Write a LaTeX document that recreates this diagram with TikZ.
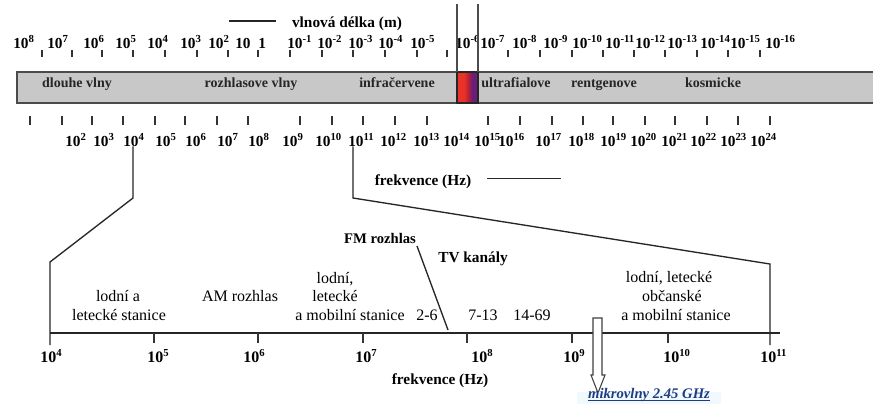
\documentclass[tikz,border=0pt]{standalone}
\usepackage{fontspec}
\setmainfont{Liberation Serif}
\newcommand\tp[1]{10\textsuperscript{#1}}
\definecolor{bandgray}{RGB}{200,200,200}
\definecolor{bandedge}{RGB}{75,75,75}
\definecolor{visred}{RGB}{235,50,40}
\definecolor{visdark}{RGB}{175,30,60}
\definecolor{vispurple}{RGB}{105,30,120}
\definecolor{linkblue}{RGB}{30,60,130}
\begin{document}
\begin{tikzpicture}[x=0.75pt,y=-0.75pt,
  num/.style={font=\bfseries\fontsize{11.5}{12}\selectfont,inner sep=0pt,anchor=base west},
  bandtxt/.style={font=\bfseries\fontsize{10.5}{12}\selectfont,inner sep=0pt,anchor=base,text=black!85},
  desc/.style={font=\fontsize{12}{14}\selectfont,inner sep=0pt,anchor=base},
  head/.style={font=\bfseries\fontsize{11.5}{14}\selectfont,inner sep=0pt,anchor=base},
  tk/.style={line width=0.9pt,draw=black!80},
  conn/.style={line width=1pt,draw=black!85}]
\useasboundingbox (0,0) rectangle (873,408);
\fill[white] (0,0) rectangle (873,408);

% wavelength heading
\node[head] (vd) at (347,27) {vlnová délka (m)};
\draw[conn] ([xshift=-12pt,yshift=4.5pt]vd.base west) -- ++(-35pt,0);

% wavelength labels
\foreach \x/\t [count=\i] in {13/\tp{8},47/\tp{7},83/\tp{6},115/\tp{5},147/\tp{4},180/\tp{3},208/\tp{2},235/10,258/1,
  287/\tp{-1},317/\tp{-2},348/\tp{-3},378/\tp{-4},410/\tp{-5},455/\tp{-6},480/\tp{-7},512/\tp{-8},543/\tp{-9},
  572/\tp{-10},605/\tp{-11},635/\tp{-12},667/\tp{-13},700/\tp{-14},730/\tp{-15},765/\tp{-16}}
  \node[num] (w\i) at (\x,48) {\t};
\foreach \x in {42,72,102,133,165,197,228,258,290,322,353,385,417,447,508,540,572,603,634,665,697,728,760}
  \draw[tk] (\x,50) -- (\x,57);

% band
\draw[line width=1.8pt,draw=bandedge,fill=bandgray] (17,72) rectangle (880,103);
\fill[visred] (457,72) rectangle (467,103);
\shade[left color=visred,right color=visdark] (464,72) rectangle (469,103);
\shade[left color=visdark,right color=vispurple] (469,72) rectangle (472,103);
\fill[vispurple] (472,72) rectangle (478,103);
\draw[line width=0.8pt,draw=black!85] (457,72) rectangle (478,103);
\draw[line width=1pt,draw=black!70] (457,4) -- (457,72);
\draw[line width=1pt,draw=black!70] (478,4) -- (478,72);

\node[bandtxt] (b1) at (77,87) {dlouhe vlny};
\node[bandtxt] (b2) at (251,87) {rozhlasove vlny};
\node[bandtxt] (b3) at (397,87) {infračervene};
\node[bandtxt] (b4) at (516,87) {ultrafialove};
\node[bandtxt] (b5) at (604,87) {rentgenove};
\node[bandtxt] (b6) at (713,87) {kosmicke};

% frequency ticks and labels
\foreach \x in {30,62,92,123,155,185,217,248,300,332,363,395,427,488,520,552,583,613,645,675,707,738,770}
  \draw[tk] (\x,116) -- (\x,125);
\foreach \x/\e in {65/2,93/3,123/4,155/5,185/6,217/7,248/8,282/9,315/10,348/11,380/12,413/13,443/14,
  474/15,498/16,535/17,568/18,600/19,630/20,661/21,690/22,720/23,750/24}
  \node[num] (f\e) at (\x,146) {\tp{\e}};

\node[head] (fk) at (423,185) {frekvence (Hz)};
\draw[conn] ([xshift=12pt,yshift=5pt]fk.base east) -- ++(55pt,0);

% zoom connectors
\coordinate (zl) at (133,198);
\coordinate (al) at (50,262);
\coordinate (alb) at (50,345);
\coordinate (zr) at (353,198);
\coordinate (ar) at (770,264);
\coordinate (arb) at (770,345);
\draw[conn] (f4.south -| zl) -- (zl) -- (al) -- (alb);
\draw[conn] (f11.south -| zr) -- (zr) -- (ar) -- (arb);

% lower axis
\coordinate (ax0) at (50,333);
\coordinate (ax1) at (780,333);
\draw[line width=1.1pt,draw=black!85] (ax0) -- (ax1);
\foreach \x in {154,258,363,467,572,668}
  \draw[tk] (\x,333) -- (\x,343);
\foreach \x/\e in {40/4,147/5,243/6,355/7,471/8,563/9,663/10,760/11}
  \node[num,font=\bfseries\fontsize{12}{12}\selectfont] (a\e) at (\x,362) {\tp{\e}};
\node[head] (fk2) at (440,384) {frekvence (Hz)};

% descriptive texts
\node[desc] (t1a) at (118,301) {lodní a};
\node[desc] (t1b) at (119,320) {letecké stanice};
\node[desc] (t2) at (240,301) {AM rozhlas};
\node[desc] (t3a) at (335,283) {lodní,};
\node[desc] (t3b) at (335,301) {letecké};
\node[desc] (t3c) at (350,320) {a mobilní stanice};
\node[desc] (c1) at (427,320) {2-6};
\node[desc] (c2) at (483,320) {7-13};
\node[desc] (c3) at (532,320) {14-69};
\node[desc,font=\bfseries\fontsize{11.5}{14}\selectfont] (tv) at (473,262) {TV kanály};
\node[desc,font=\bfseries\fontsize{11}{14}\selectfont] (fm) at (380,243) {FM rozhlas};
\coordinate (fmend) at (448,330);
\draw[conn] (417,246) -- (fmend);
\node[desc] (t4a) at (669,282) {lodní, letecké};
\node[desc] (t4b) at (672,301) {občanské};
\node[desc] (t4c) at (676,320) {a mobilní stanice};

% microwave arrow
\draw[line width=0.8pt,draw=black!75,fill=white] (593,318) -- (602,318) -- (602,375) -- (605,375)
  -- (598,393) -- (591,375) -- (593,375) -- cycle;
\fill[cyan!6] (577,392) rectangle (721,404);
\node[inner sep=0pt,anchor=base,font=\bfseries\itshape\fontsize{11}{12}\selectfont,text=linkblue] (mw) at (649,398) {mikrovlny 2.45 GHz};
\draw[linkblue,line width=0.7pt] ([yshift=-1.5pt]mw.base west) -- ([yshift=-1.5pt]mw.base east);
\end{tikzpicture}
\end{document}
